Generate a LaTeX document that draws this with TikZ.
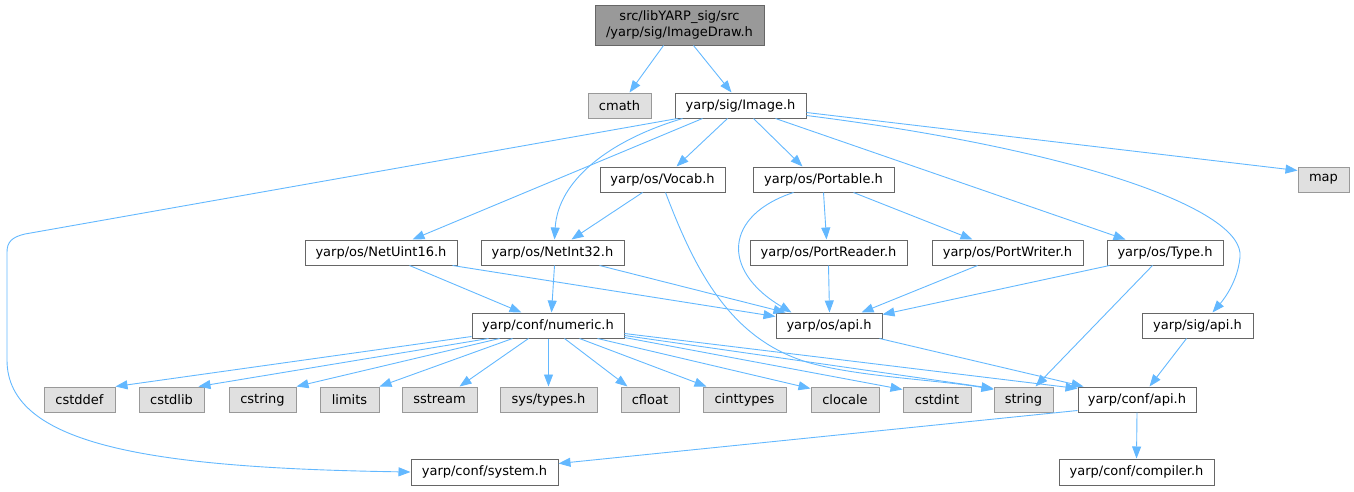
\documentclass[tikz,border=0pt]{standalone}
\usepackage{fontspec}
\setmainfont{DejaVu Sans}
\usetikzlibrary{arrows.meta}
\definecolor{edgec}{HTML}{63B8FF}
\definecolor{bordc}{HTML}{666666}
\definecolor{gbordc}{HTML}{999999}
\definecolor{gfill}{HTML}{E0E0E0}
\definecolor{mfill}{HTML}{999999}
\begin{document}
\begin{tikzpicture}[x=1pt,y=-1pt,
  box/.style={draw=bordc, fill=white, line width=1pt, inner sep=0pt, minimum height=25pt, font=\fontsize{13}{16}\selectfont},
  wbox/.style={box},
  gbox/.style={box, draw=gbordc, fill=gfill},
  mbox/.style={box, draw=bordc, fill=mfill, align=center},
  edge/.style={draw=edgec, line width=0.9pt, -{Triangle[length=12pt,width=9pt]}}]
\useasboundingbox (0,0) rectangle (1354,491);
% nodes
\node[mbox, minimum width=169pt, minimum height=40pt] (main) at (679.5,25) {src/libYARP\_sig/src\\/yarp/sig/ImageDraw.h};
\node[gbox, minimum width=63pt] (cmath) at (619.5,105.5) {cmath};
\node[wbox, minimum width=131pt] (image) at (740.5,105.5) {yarp/sig/Image.h};
\node[wbox, minimum width=125pt] (vocab) at (662.5,179.5) {yarp/os/Vocab.h};
\node[wbox, minimum width=141pt] (portable) at (823.5,179.5) {yarp/os/Portable.h};
\node[gbox, minimum width=51pt] (map) at (1323.5,179.5) {map};
\node[wbox, minimum width=152pt] (netuint) at (381,252.5) {yarp/os/NetUint16.h};
\node[wbox, minimum width=143pt] (netint) at (552.5,252.5) {yarp/os/NetInt32.h};
\node[wbox, minimum width=157pt] (preader) at (828.5,252.5) {yarp/os/PortReader.h};
\node[wbox, minimum width=151pt] (pwriter) at (1007.5,252.5) {yarp/os/PortWriter.h};
\node[wbox, minimum width=116pt] (type) at (1165,252.5) {yarp/os/Type.h};
\node[wbox, minimum width=152pt] (numeric) at (548,325.5) {yarp/conf/numeric.h};
\node[wbox, minimum width=106pt] (osapi) at (829,325.5) {yarp/os/api.h};
\node[wbox, minimum width=111pt] (sigapi) at (1197.5,325.5) {yarp/sig/api.h};
\node[gbox, minimum width=71pt] (cstddef) at (79.5,399.5) {cstddef};
\node[gbox, minimum width=65pt] (cstdlib) at (171.5,399.5) {cstdlib};
\node[gbox, minimum width=67pt] (cstring) at (262.5,399.5) {cstring};
\node[gbox, minimum width=59pt] (limits) at (349.5,399.5) {limits};
\node[gbox, minimum width=75pt] (sstream) at (439.5,399.5) {sstream};
\node[gbox, minimum width=97pt] (systypes) at (548.5,399.5) {sys/types.h};
\node[gbox, minimum width=58pt] (cfloat) at (650,399.5) {cfloat};
\node[gbox, minimum width=83pt] (cinttypes) at (744.5,399.5) {cinttypes};
\node[gbox, minimum width=68pt] (clocale) at (845,399.5) {clocale};
\node[gbox, minimum width=68pt] (cstdint) at (937,399.5) {cstdint};
\node[gbox, minimum width=59pt] (string) at (1023.5,399.5) {string};
\node[wbox, minimum width=118pt] (confapi) at (1137,399.5) {yarp/conf/api.h};
\node[wbox, minimum width=147pt, minimum height=26pt] (system) at (484.5,472) {yarp/conf/system.h};
\node[wbox, minimum width=155pt, minimum height=26pt] (compiler) at (1136.5,472) {yarp/conf/compiler.h};
% edges
\draw[edge] ([xshift=69]main.south west) -- ([xshift=42]cmath.north west);
\draw[edge] ([xshift=99]main.south west) -- ([xshift=57]image.north west);
\draw[edge] ([xshift=3]image.south west) -- (25,234) .. controls (12,237) and (7,242) .. (7,252) -- (7,360) .. controls (7,445) and (150,468) .. (system.west);
\draw[edge] ([xshift=8]image.south west) .. controls (610,140) and (558,180) .. ([xshift=74]netint.north west);
\draw[edge] ([xshift=28]image.south west) -- ([xshift=108]netuint.north west);
\draw[edge] ([xshift=53]image.south west) -- ([xshift=77]vocab.north west);
\draw[edge] ([xshift=79]image.south west) -- ([xshift=50]portable.north west);
\draw[edge] ([xshift=101]image.south west) -- ([xshift=19]type.north west);
\draw[edge] ([yshift=3]image.south east) .. controls (1080,150) and (1245,210) .. (1240,257) .. controls (1238,280) and (1225,298) .. ([xshift=71]sigapi.north west);
\draw[edge] ([yshift=6]image.south east) -- ([yshift=-4]map.north west);
\draw[edge] ([xshift=43]vocab.south west) -- ([xshift=91]netint.north west);
\draw[edge] ([xshift=66]vocab.south west) .. controls (695,270) and (730,340) .. (810,363) .. controls (860,377) and (940,380) .. ([yshift=-3]string.north west);
\draw[edge] ([xshift=41]portable.south west) .. controls (725,215) and (720,270) .. ([xshift=16]osapi.north west);
\draw[edge] ([xshift=71]portable.south west) -- ([xshift=77]preader.north west);
\draw[edge] ([xshift=101]portable.south west) -- ([xshift=41]pwriter.north west);
\draw[edge] ([xshift=105]netuint.south west) -- ([xshift=50]numeric.north west);
\draw[edge] ([xshift=148]netuint.south west) -- ([yshift=-4]osapi.north west);
\draw[edge] ([xshift=74]netint.south west) -- ([xshift=80]numeric.north west);
\draw[edge] ([xshift=119]netint.south west) -- ([xshift=10]osapi.north west);
\draw[edge] ([xshift=79]preader.south west) -- ([xshift=54]osapi.north west);
\draw[edge] ([xshift=46]pwriter.south west) -- ([xshift=86]osapi.north west);
\draw[edge] ([xshift=3]type.south west) -- ([yshift=-2]osapi.north east);
\draw[edge] ([xshift=46]type.south west) -- ([xshift=42]string.north west);
\draw[edge] ([xshift=104]osapi.south west) -- ([xshift=6]confapi.north west);
\draw[edge] ([xshift=45]sigapi.south west) -- ([xshift=72]confapi.north west);
\draw[edge] (confapi.south) -- (compiler.north);
\draw[edge] ([yshift=2]confapi.south west) -- ([yshift=-5]system.north east);
\draw[edge] ([yshift=2]numeric.south west) -- (cstddef.north east);
\draw[edge] ([xshift=17]numeric.south west) -- ([xshift=60]cstdlib.north west);
\draw[edge] ([xshift=28]numeric.south west) -- (cstring.north east);
\draw[edge] ([xshift=41]numeric.south west) -- (limits.north east);
\draw[edge] ([xshift=57]numeric.south west) -- ([xshift=58]sstream.north west);
\draw[edge] ([xshift=77]numeric.south west) -- (systypes.north);
\draw[edge] ([xshift=93]numeric.south west) -- ([xshift=7]cfloat.north west);
\draw[edge] ([xshift=108]numeric.south west) -- ([xshift=4]cinttypes.north west);
\draw[edge] ([xshift=126]numeric.south west) -- ([yshift=-2]clocale.north west);
\draw[edge] ([yshift=1]numeric.south east) -- ([yshift=-3]cstdint.north west);
\draw[edge] ([yshift=3]numeric.south east) -- ([yshift=-2]string.north west);
\draw[edge] ([yshift=5]numeric.south east) -- ([yshift=-2]confapi.north west);
\end{tikzpicture}
\end{document}
